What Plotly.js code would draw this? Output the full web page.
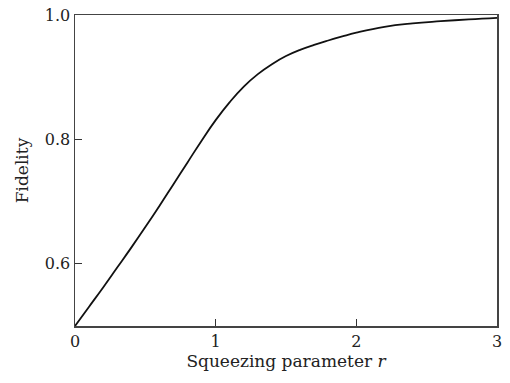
<!DOCTYPE html>
<html>
<head>
<meta charset="utf-8">
<script src="https://cdn.plot.ly/plotly-3.0.1.min.js"></script>
<style>html,body{margin:0;padding:0;background:#fff;}#chart{width:510px;height:383px;}</style>
</head>
<body>
<div id="chart"></div>
<script>
var squeezingR = [0, 0.1, 0.2, 0.3, 0.4, 0.5, 0.6, 0.7, 0.8, 0.9, 1.0, 1.1, 1.2, 1.3, 1.4, 1.5, 1.6, 1.7, 1.8, 1.9, 2.0, 2.2, 2.4, 2.6, 2.8, 3.0];
var fidelity = [0.500, 0.531, 0.562, 0.594, 0.626, 0.659, 0.693, 0.728, 0.763, 0.798, 0.831, 0.860, 0.885, 0.905, 0.921, 0.934, 0.944, 0.952, 0.959, 0.9655, 0.9715, 0.981, 0.9865, 0.990, 0.993, 0.9955];
var xTicks = [0, 1, 2, 3];
var xTickText = ["0", "1", "2", "3"];
var yTicks = [0.6, 0.8, 1.0];
var yTickText = ["0.6", "0.8", "1.0"];

var font = "DejaVu Serif, Liberation Serif, serif";
var trace = {
  x: squeezingR, y: fidelity, mode: "lines", type: "scatter",
  line: {color: "#111", width: 1.8, shape: "spline", smoothing: 1.3},
  hoverinfo: "none"
};
var layout = {
  width: 510, height: 383,
  margin: {l: 75, r: 13, t: 15, b: 57},
  paper_bgcolor: "#fff", plot_bgcolor: "#fff",
  showlegend: false,
  font: {family: font, size: 16, color: "#222"},
  xaxis: {
    range: [0, 3], tickvals: xTicks, ticktext: xTickText,
    ticks: "inside", ticklen: 7, tickwidth: 1.2, tickcolor: "#333",
    showline: true, linecolor: "#444", linewidth: 1.5, mirror: true,
    showgrid: false, zeroline: false,
    tickfont: {family: font, size: 16, color: "#222"},
    title: {text: "Squeezing parameter <i>r</i>", font: {family: font, size: 17, color: "#222"}, standoff: 4}
  },
  yaxis: {
    range: [0.5, 1.0], tickvals: yTicks, ticktext: yTickText,
    ticks: "inside", ticklen: 7, tickwidth: 1.2, tickcolor: "#333",
    showline: true, linecolor: "#444", linewidth: 1.5, mirror: true,
    showgrid: false, zeroline: false,
    tickfont: {family: font, size: 16, color: "#222"},
    title: {text: "Fidelity", font: {family: font, size: 17, color: "#222"}, standoff: 12}
  }
};
Plotly.newPlot("chart", [trace], layout, {displayModeBar: false, staticPlot: true});
</script>
</body>
</html>
